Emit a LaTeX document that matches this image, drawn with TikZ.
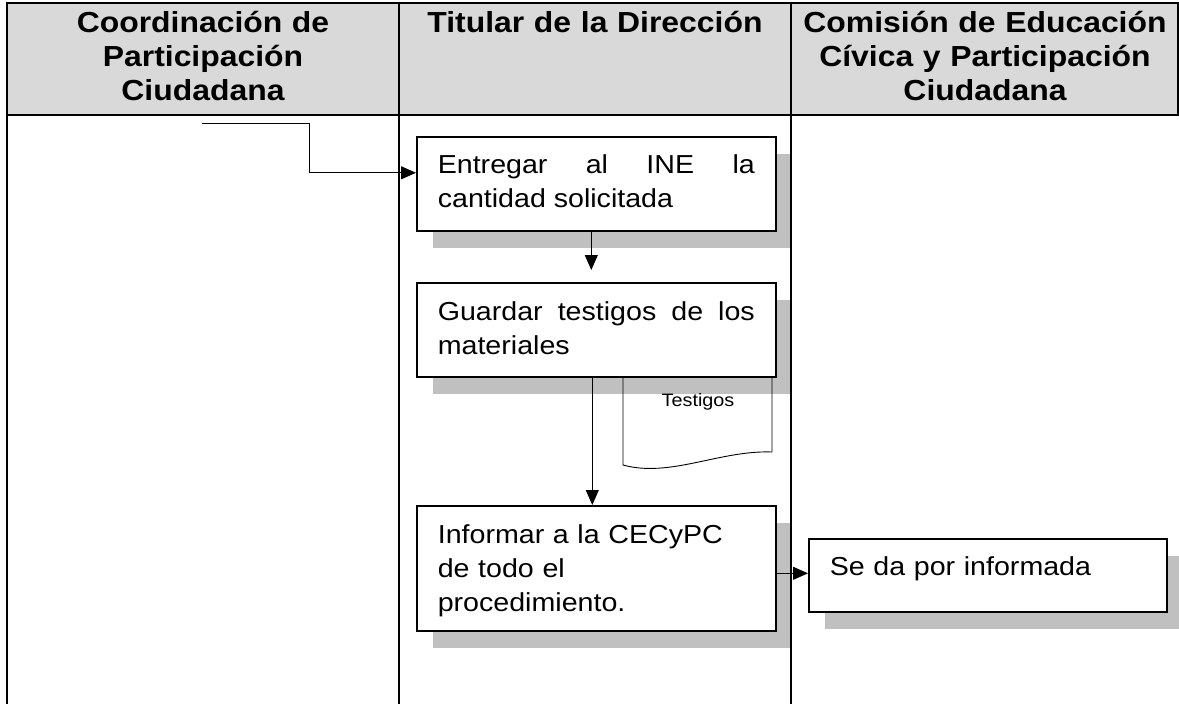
\documentclass[tikz,border=0pt]{standalone}
\usepackage{fontspec}
\setmainfont{Liberation Sans}
\newfontfamily\stretchsans[FakeStretch=1.1]{Liberation Sans}
\usetikzlibrary{arrows.meta,shadows}
\definecolor{headgray}{RGB}{217,217,217}
\definecolor{shadegray}{RGB}{192,192,192}
\hyphenpenalty=10000
\exhyphenpenalty=10000
\begin{document}
\begin{tikzpicture}[x=1pt,y=-1pt,
  every node/.style={font=\stretchsans},
  headcell/.style={anchor=north, text width=380pt, align=center, inner xsep=0pt, inner ysep=0pt,
    text height=29pt, font=\stretchsans\bfseries\fontsize{29}{34}\selectfont},
  stepbox/.style={draw, line width=1.6pt, fill=white, anchor=north west, text width=317pt,
    inner xsep=21pt, inner ysep=0pt, text height=37pt,
    font=\stretchsans\fontsize{26}{34}\selectfont,
    drop shadow={shadow xshift=16pt, shadow yshift=-17pt, fill=shadegray, opacity=1}},
  conn/.style={line width=1pt, -{Triangle[length=15pt,width=13pt]}},
  rule/.style={line width=2.2pt},
  docline/.style={line width=0.9pt},
  doclabel/.style={font=\stretchsans\fontsize{18}{20}\selectfont, anchor=base, inner sep=0pt}
]
\useasboundingbox (0,0) rectangle (1179,704);
% header
\draw[rule, fill=headgray] (7,3) rectangle (1178,115);
\node[headcell] (h1) at (203,3) {Coordinación de\\Participación\\Ciudadana};
\node[headcell] (h2) at (595,3) {Titular de la Dirección};
\node[headcell] (h3) at (985,3) {Comisión de Educación\\Cívica y Participación\\Ciudadana};
% boxes
\node[stepbox, align=justify, text depth=57pt] (b1) at (416,136) {Entregar al INE la cantidad solicitada};
\node[stepbox, align=justify, text height=38pt, text depth=56pt] (b2) at (416,282) {Guardar testigos de los materiales};
\node[stepbox, align=left, text height=38pt, text depth=87pt] (b3) at (416,505) {Informar a la CECyPC\\de todo el\\procedimiento.};
\node[stepbox, align=left, text depth=36pt, text width=316pt] (b4) at (808,538) {Se da por informada};
% table lines
\draw[rule] (7,3) -- (7,704);
\draw[rule] (399,3) -- (399,704);
\draw[rule] (791,3) -- (791,704);
% document
\draw[docline] (623,376) -- (623,465) .. controls (670,478) and (720,450) .. (772,452) -- (772,376);
\node[doclabel] (doc) at (698,406) {Testigos};
% connectors
\coordinate (in0) at (202,123);
\coordinate (bend) at (309,123);
\draw[conn] (in0) -- (bend) |- ([yshift=11pt]b1.west);
\draw[conn] ([xshift=-5pt]b1.south) -- ([xshift=-5pt,yshift=12pt]b2.north);
\draw[conn] ([xshift=-4pt]b2.south) -- ([xshift=-4pt]b3.north);
\draw[conn] ([yshift=2pt]b4.west -| b3.east) -- ([yshift=2pt]b4.west);
\end{tikzpicture}
\end{document}
